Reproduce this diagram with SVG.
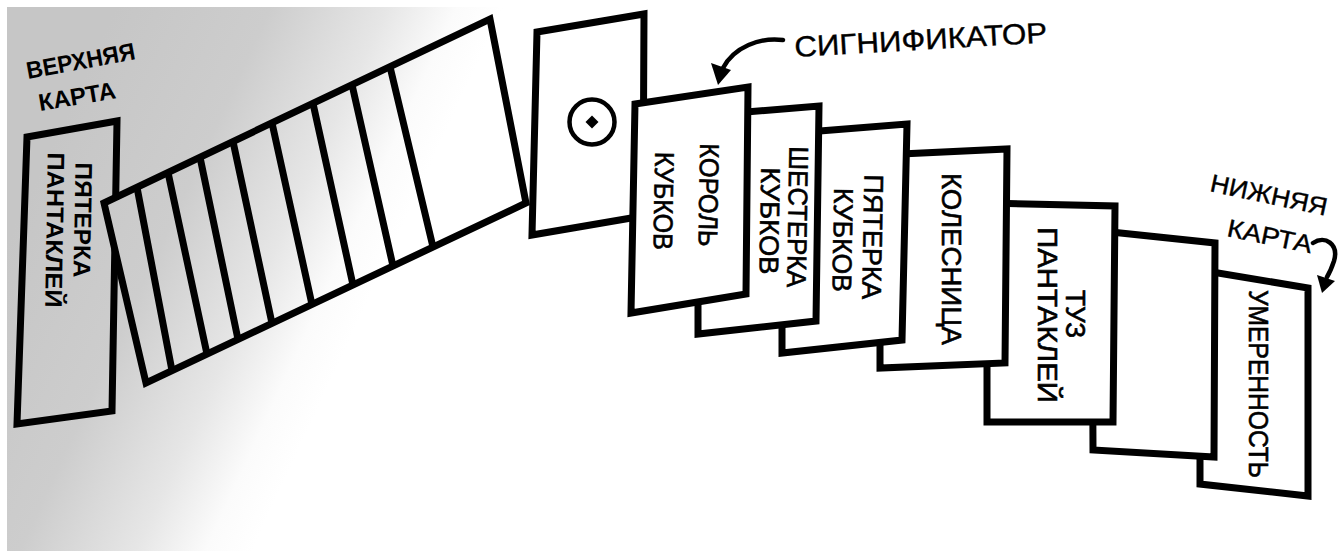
<svg xmlns="http://www.w3.org/2000/svg" width="1341" height="551" viewBox="0 0 1341 551">
<defs>
<linearGradient id="paper" gradientUnits="userSpaceOnUse" x1="40" y1="170" x2="360" y2="318">
<stop offset="0" stop-color="#c6c6c6"/>
<stop offset="0.4" stop-color="#cdcdcd"/>
<stop offset="0.7" stop-color="#e6e6e6"/>
<stop offset="0.88" stop-color="#fbfbfb"/>
<stop offset="1" stop-color="#ffffff"/>
</linearGradient>
<style>
.card{stroke:#000;stroke-width:7;stroke-linejoin:miter;fill:#fff}
.paper{fill:url(#paper)}
.div{stroke:#000;stroke-width:7;stroke-linecap:butt;fill:none}
.lbl{font-family:"Liberation Sans","DejaVu Sans",sans-serif;font-size:27px;fill:#000;stroke:#000;stroke-width:0.6}
.bold{font-family:"Liberation Sans","DejaVu Sans",sans-serif;font-size:24px;font-weight:bold;fill:#000}
.hand{font-family:"Liberation Sans","DejaVu Sans",sans-serif;fill:#000;stroke:#000;stroke-width:0.4}
.arrow{stroke:#000;stroke-width:4.5;fill:none;stroke-linecap:round}
</style>
</defs>
<rect x="0" y="0" width="1341" height="551" fill="#ffffff"/>
<rect x="7" y="7" width="1334" height="544" fill="url(#paper)"/>

<g id="label-top">
<text class="bold" x="28" y="79" font-size="28" transform="rotate(-10.4 28 79)" textLength="110" lengthAdjust="spacingAndGlyphs">ВЕРХНЯЯ</text>
<text class="bold" x="40" y="111" font-size="28" transform="rotate(-9.5 40 111)" textLength="78" lengthAdjust="spacingAndGlyphs">КАРТА</text>
</g>

<g id="card-top">
<polygon class="card paper" points="27,137 117,121 112,411 17,424"/>
<text class="bold" transform="translate(83,220) rotate(91)" y="8.5" text-anchor="middle" textLength="115" lengthAdjust="spacingAndGlyphs">ПЯТЕРКА</text>
<text class="bold" transform="translate(55,230) rotate(91)" y="8.5" text-anchor="middle" textLength="155" lengthAdjust="spacingAndGlyphs">ПАНТАКЛЕЙ</text>
</g>

<g id="deck">
<polygon class="card paper" points="104,203 490,19 526,203 146,383"/>
<path class="div" d="M137,187.3 L172,370.7 M168,172.5 L207,354.1 M200,157.2 L238,339.4 M233,141.5 L272,323.3 M272,122.9 L312,304.4 M313,103.4 L353,284.9 M352,84.8 L393,266 M390,66.7 L433,247"/>
</g>

<g id="card-temperance">
<polygon class="card" points="1200,270 1308,288 1308,496 1200,484"/>
<text class="lbl" transform="translate(1259,384) rotate(90)" y="9.7" text-anchor="middle" textLength="188" lengthAdjust="spacingAndGlyphs">УМЕРЕННОСТЬ</text>
</g>

<g id="card-blank">
<polygon class="card" points="1092,230 1215,243 1214,457 1093,450"/>
</g>

<g id="card-ace-pentacles">
<polygon class="card" points="987,203 1115,206 1113,422 987,422"/>
<text class="lbl" transform="translate(1076,314) rotate(90)" y="9.7" text-anchor="middle" textLength="48" lengthAdjust="spacingAndGlyphs">ТУЗ</text>
<text class="lbl" transform="translate(1048,315) rotate(90)" y="9.7" text-anchor="middle" textLength="176" lengthAdjust="spacingAndGlyphs">ПАНТАКЛЕЙ</text>
</g>

<g id="card-chariot">
<polygon class="card" points="880,155 1007,149 1005,363 880,368"/>
<text class="lbl" transform="translate(952,259) rotate(90)" y="9.7" text-anchor="middle" textLength="172" lengthAdjust="spacingAndGlyphs">КОЛЕСНИЦА</text>
</g>

<g id="card-five-cups">
<polygon class="card" points="782,134 907,124 902,340 782,353"/>
<text class="lbl" transform="translate(873,237) rotate(91)" y="9.7" text-anchor="middle" textLength="125" lengthAdjust="spacingAndGlyphs">ПЯТЕРКА</text>
<text class="lbl" transform="translate(843,240) rotate(91)" y="9.7" text-anchor="middle" textLength="104" lengthAdjust="spacingAndGlyphs">КУБКОВ</text>
</g>

<g id="card-six-cups">
<polygon class="card" points="698,116 819,106 816,321 698,334"/>
<text class="lbl" transform="translate(798,217) rotate(91)" y="9.7" text-anchor="middle" textLength="141" lengthAdjust="spacingAndGlyphs">ШЕСТЕРКА</text>
<text class="lbl" transform="translate(770,221) rotate(91)" y="9.7" text-anchor="middle" textLength="107" lengthAdjust="spacingAndGlyphs">КУБКОВ</text>
</g>

<g id="card-significator">
<polygon class="card" points="537,32 644,14 643,216 532,235"/>
<circle cx="592" cy="122" r="22.5" fill="none" stroke="#000" stroke-width="4.5"/>
<polygon points="592,115.5 598.5,122 592,128.5 585.5,122" fill="#000"/>
</g>

<g id="card-king-cups">
<polygon class="card" points="635,104 748,87 746,294 631,313"/>
<text class="lbl" transform="translate(709,195) rotate(91)" y="9.7" text-anchor="middle" textLength="103" lengthAdjust="spacingAndGlyphs">КОРОЛЬ</text>
<text class="lbl" transform="translate(664,201) rotate(91)" y="9.7" text-anchor="middle" textLength="98" lengthAdjust="spacingAndGlyphs">КУБКОВ</text>
</g>

<g id="label-significator">
<text class="hand" x="795" y="57" font-size="29" transform="rotate(-3.3 795 57)" textLength="253" lengthAdjust="spacingAndGlyphs">СИГНИФИКАТОР</text>
</g>

<g id="label-bottom">
<text class="hand" x="1209" y="191" font-size="25" transform="rotate(12 1209 191)" textLength="119" lengthAdjust="spacingAndGlyphs">НИЖНЯЯ</text>
<text class="hand" x="1226" y="236" font-size="25" transform="rotate(11.6 1226 236)" textLength="86" lengthAdjust="spacingAndGlyphs">КАРТА</text>
</g>

<g id="connectors">
<path class="arrow" d="M783,40 C760,37 734,47 723,68"/>
<polygon points="711,63 731,70 718,85" fill="#000"/>
<path class="arrow" stroke-width="3.5" d="M1313,243 C1325,235 1339,244 1334,261 C1332,267 1330,272 1327,277"/>
<polygon points="1317,275 1335,281 1322,293" fill="#000"/>
</g>
</svg>
